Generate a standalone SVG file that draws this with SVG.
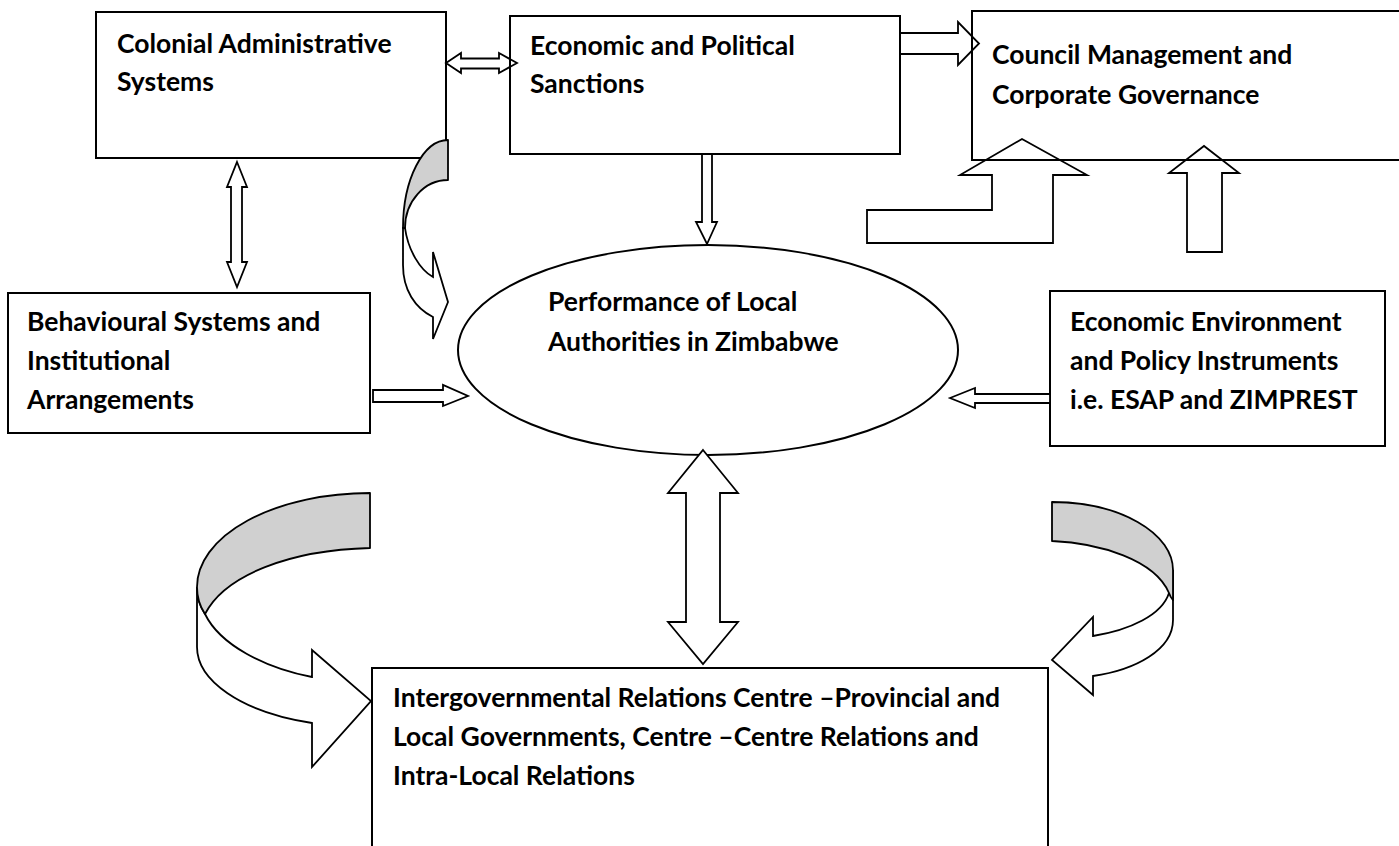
<svg xmlns="http://www.w3.org/2000/svg" width="1399" height="846" viewBox="0 0 1399 846">
  <style>
    .box{fill:#fff;stroke:#000;stroke-width:2}
    .frame{fill:none;stroke:#000;stroke-width:2}
    .arr{fill:#fff;stroke:#000;stroke-width:1.8;stroke-linejoin:miter}
    .shade{fill:#d0d0d0;stroke:#000;stroke-width:1.8;stroke-linejoin:round}
    .t{font-family:Lato,"Liberation Sans",sans-serif;font-weight:bold;font-size:26.5px;fill:#000}
  </style>
  <rect width="1399" height="846" fill="#fff"/>

  <!-- boxes that sit underneath the arrows -->
  <g id="colonial">
    <rect class="box" x="96" y="12" width="350" height="146"/>
    <text class="t" x="117" y="53">Colonial Administrative</text>
    <text class="t" x="117" y="91">Systems</text>
  </g>
  <g id="behavioural">
    <rect class="box" x="8" y="293" width="362" height="140"/>
    <text class="t" x="27" y="331">Behavioural Systems and</text>
    <text class="t" x="27" y="370">Institutional</text>
    <text class="t" x="27" y="409">Arrangements</text>
  </g>
  <g id="economic-environment">
    <rect class="box" x="1050" y="291" width="335" height="155"/>
    <text class="t" x="1070" y="331">Economic Environment</text>
    <text class="t" x="1070" y="370">and Policy Instruments</text>
    <text class="t" x="1070" y="409">i.e. ESAP and ZIMPREST</text>
  </g>
  <g id="performance">
    <ellipse class="box" cx="708" cy="350" rx="250" ry="105"/>
    <text class="t" x="548" y="311">Performance of Local</text>
    <text class="t" x="548" y="351">Authorities in Zimbabwe</text>
  </g>
  <g id="intergovernmental">
    <rect class="box" x="372" y="668" width="676" height="200"/>
    <text class="t" x="393" y="707">Intergovernmental Relations Centre –Provincial and</text>
    <text class="t" x="393" y="746">Local Governments, Centre –Centre Relations and</text>
    <text class="t" x="393" y="785">Intra-Local Relations</text>
  </g>

  <!-- block arrows between the nodes -->
  <g id="connectors">
    <!-- colonial <-> sanctions -->
    <polygon class="arr" points="446,63 461,53 461,58.5 499,58.5 499,53 517,63 499,73 499,68.5 461,68.5 461,73"/>
    <!-- sanctions -> council -->
    <polygon class="arr" points="900,33 958,33 958,22 979,43.5 958,65 958,54 900,54"/>
    <!-- bent arrow up into council -->
    <polygon class="arr" points="867,210 992,210 992,175 960,175 1022,139 1087,175 1053,175 1053,243 867,243"/>
    <!-- straight arrow up into council -->
    <polygon class="arr" points="1187,252 1187,173 1169,173 1204,146 1239,173 1222,173 1222,252"/>
    <!-- sanctions -> performance -->
    <polygon class="arr" points="702,154 712,154 712,222 717,222 707,244 696,222 702,222"/>
    <!-- colonial <-> behavioural -->
    <polygon class="arr" points="237,162 247,187 242,187 242,262 247,262 237,287 227,262 231,262 231,187 227,187"/>
    <!-- behavioural -> performance -->
    <polygon class="arr" points="373,390 443,390 443,385 468,396 443,406 443,402 373,402"/>
    <!-- economic environment -> performance -->
    <polygon class="arr" points="950,398 975,388 975,394 1050,394 1050,403 975,403 975,408"/>
    <!-- performance <-> intergovernmental -->
    <polygon class="arr" points="703,450 738,493 720,493 720,622 738,622 703,664 668,622 686,622 686,493 668,493"/>

    <!-- curved arrow from colonial towards performance -->
    <path class="arr" d="M403,228 L403,265 C403,290 415,308 433,317 L433,339 L448,302 L433,252 L433,277 C420,270 408,250 405,228 Z"/>
    <path class="shade" d="M448,140 L448,180 A43,48 0 0 0 405,228 L403,228 A45,88 0 0 1 448,140 Z"/>

    <!-- curved arrow on the left into intergovernmental -->
    <path class="arr" d="M197,587 L197,647 C197,680 240,712 312,723 L312,767 L371,701 L312,650 L312,677 C265,668 220,645 205,614 C199,605 197,597 197,587 Z"/>
    <path class="shade" d="M370,493 L370,548 C290,550 225,575 205,614 C199,605 197,597 197,587 A173,94 0 0 1 370,493 Z"/>

    <!-- curved arrow on the right into intergovernmental -->
    <path class="arr" d="M1173,570 L1173,620 C1173,650 1135,670 1093,676 L1093,695 L1052,660 L1093,617 L1093,636 C1130,630 1162,615 1169,593 C1171,585 1173,578 1173,570 Z"/>
    <path class="shade" d="M1052,502 A121,68 0 0 1 1173,570 L1173,600 C1171,598 1170,596 1169,593 C1155,560 1100,543 1052,541 Z"/>
  </g>

  <!-- outlined boxes drawn over the arrow heads -->
  <g id="sanctions">
    <rect class="frame" x="510" y="16" width="390" height="138"/>
    <text class="t" x="530" y="55">Economic and Political</text>
    <text class="t" x="530" y="93">Sanctions</text>
  </g>
  <g id="council">
    <rect class="frame" x="972" y="11" width="440" height="149"/>
    <text class="t" x="992" y="64">Council Management and</text>
    <text class="t" x="992" y="104">Corporate Governance</text>
  </g>
</svg>
